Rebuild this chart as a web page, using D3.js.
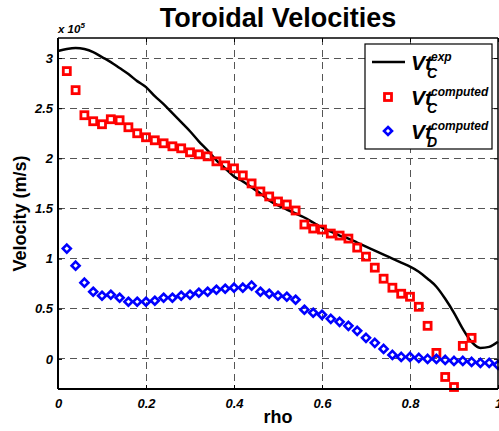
<!DOCTYPE html>
<html>
<head>
<meta charset="utf-8">
<script src="https://cdn.jsdelivr.net/npm/d3@7"></script>
<style>
	body { margin: 0; background: #ffffff; }
	svg { display: block; font-family: "Liberation Sans", Arial, sans-serif; }
</style>
</head>
<body>
<svg id="chart" width="499" height="431"></svg>
<script>
// All velocities are in units of 10^5 m/s, as written on top of the y axis.
var rho_exp = [0.00, 0.02, 0.04, 0.06, 0.08, 0.10, 0.12, 0.14, 0.16, 0.18,
	0.20, 0.22, 0.24, 0.26, 0.28, 0.30, 0.32, 0.34, 0.36, 0.38,
	0.40, 0.42, 0.44, 0.46, 0.48, 0.50, 0.52, 0.54, 0.56, 0.58,
	0.60, 0.62, 0.64, 0.66, 0.68, 0.70, 0.72, 0.74, 0.76, 0.78,
	0.80, 0.82, 0.84, 0.86, 0.88, 0.90, 0.92, 0.94, 0.96, 0.98, 1.00];
var vt_c_exp = [3.07, 3.09, 3.10, 3.09, 3.06, 3.01, 2.96, 2.90, 2.84, 2.77,
	2.71, 2.62, 2.54, 2.45, 2.36, 2.27, 2.17, 2.08, 1.98, 1.90,
	1.82, 1.77, 1.71, 1.65, 1.58, 1.53, 1.49, 1.45, 1.41, 1.36,
	1.31, 1.27, 1.23, 1.20, 1.16, 1.12, 1.08, 1.04, 1.00, 0.96,
	0.92, 0.87, 0.80, 0.72, 0.60, 0.46, 0.30, 0.17, 0.11, 0.12, 0.17];

var rho_computed = [0.02, 0.04, 0.06, 0.08, 0.10, 0.12, 0.14, 0.16, 0.18, 0.20,
	0.22, 0.24, 0.26, 0.28, 0.30, 0.32, 0.34, 0.36, 0.38, 0.40,
	0.42, 0.44, 0.46, 0.48, 0.50, 0.52, 0.54, 0.56, 0.58, 0.60,
	0.62, 0.64, 0.66, 0.68, 0.70, 0.72, 0.74, 0.76, 0.78, 0.80,
	0.82, 0.84, 0.86, 0.88, 0.90, 0.92, 0.94, 0.96, 0.98, 1.00];
// Ends at rho = 0.94.
var vt_c_computed = [2.87, 2.68, 2.43, 2.37, 2.34, 2.39, 2.38, 2.31, 2.25, 2.21,
	2.18, 2.15, 2.12, 2.10, 2.06, 2.04, 2.02, 1.97, 1.93, 1.90,
	1.83, 1.75, 1.67, 1.62, 1.57, 1.54, 1.48, 1.34, 1.30, 1.29,
	1.25, 1.23, 1.20, 1.11, 1.02, 0.91, 0.80, 0.71, 0.65, 0.62,
	0.52, 0.33, 0.06, -0.18, -0.28, 0.13, 0.21];
var vt_d_computed = [1.10, 0.93, 0.76, 0.67, 0.63, 0.64, 0.61, 0.57, 0.57, 0.57,
	0.58, 0.61, 0.61, 0.63, 0.64, 0.66, 0.67, 0.69, 0.70, 0.71,
	0.71, 0.73, 0.67, 0.65, 0.63, 0.62, 0.59, 0.49, 0.46, 0.44,
	0.40, 0.37, 0.33, 0.28, 0.21, 0.16, 0.10, 0.04, 0.02, 0.02,
	0.01, 0.00, 0.00, -0.01, -0.02, -0.02, -0.03, -0.04, -0.04, -0.06];

var x_ticks = [0, 0.2, 0.4, 0.6, 0.8, 1];
var x_tick_labels = ["0", "0.2", "0.4", "0.6", "0.8", "1"];
var y_ticks = [0, 0.5, 1, 1.5, 2, 2.5, 3];
var y_tick_labels = ["0", "0.5", "1", "1.5", "2", "2.5", "3"];

var legend_subs = ["C", "C", "D"];
var legend_sups = ["exp", "computed", "computed"];

// Plot box edges (note: "top" is taken by window.top, so prefix them).
var box_left = 58, box_right = 498, box_top = 38, box_bottom = 389;

var SQUARE_HALF = 3.5;
var DIAMOND_R = 4;

var svg = d3.select("#chart");

var x = d3.scaleLinear().domain([0, 1]).range([box_left, box_right]);
var y = d3.scaleLinear().domain([-0.3, 3.2]).range([box_bottom, box_top]);

// Dashed grid, drawn first so everything else sits over it.
var grid = svg.append("g")
	.attr("stroke", "#555555")
	.attr("stroke-width", 1)
	.attr("stroke-dasharray", "7,5")
	.attr("shape-rendering", "crispEdges");
grid.selectAll("line.gx")
	.data(x_ticks.filter(function(d) { return d > 0 && d < 1; }))
	.enter().append("line")
	.attr("class", "gx")
	.attr("x1", function(d) { return x(d); })
	.attr("x2", function(d) { return x(d); })
	.attr("y1", box_top)
	.attr("y2", box_bottom);
grid.selectAll("line.gy")
	.data(y_ticks)
	.enter().append("line")
	.attr("class", "gy")
	.attr("x1", box_left)
	.attr("x2", box_right)
	.attr("y1", function(d) { return y(d); })
	.attr("y2", function(d) { return y(d); });

// Axes with inward ticks (MATLAB style), labels in bold italic.
var x_axis = d3.axisBottom(x)
	.tickValues(x_ticks)
	.tickFormat(function(d, i) { return x_tick_labels[i]; })
	.tickSizeInner(-4)
	.tickSizeOuter(0)
	.tickPadding(10);
var y_axis = d3.axisLeft(y)
	.tickValues(y_ticks)
	.tickFormat(function(d, i) { return y_tick_labels[i]; })
	.tickSizeInner(-4)
	.tickSizeOuter(0)
	.tickPadding(5);

function style_axis(g)
{
	g.select(".domain").remove();
	g.selectAll(".tick line").attr("stroke", "#000000");
	g.selectAll(".tick text")
		.attr("fill", "#000000")
		.style("font-size", "13px")
		.style("font-weight", "bold")
		.style("font-style", "italic");
}

svg.append("g")
	.attr("transform", "translate(0," + box_bottom + ")")
	.call(x_axis)
	.call(style_axis);
svg.append("g")
	.attr("transform", "translate(" + box_left + ",0)")
	.call(y_axis)
	.call(style_axis);

// Mirror ticks on top and right.
svg.append("g")
	.attr("transform", "translate(0," + box_top + ")")
	.call(d3.axisTop(x).tickValues(x_ticks).tickFormat("").tickSizeInner(-4).tickSizeOuter(0))
	.call(style_axis);
svg.append("g")
	.attr("transform", "translate(" + box_right + ",0)")
	.call(d3.axisRight(y).tickValues(y_ticks).tickFormat("").tickSizeInner(-4).tickSizeOuter(0))
	.call(style_axis);

// Experimental profile.
var line = d3.line()
	.x(function(d, i) { return x(rho_exp[i]); })
	.y(function(d) { return y(d); })
	.curve(d3.curveMonotoneX);
svg.append("path")
	.attr("d", line(vt_c_exp))
	.attr("fill", "none")
	.attr("stroke", "#000000")
	.attr("stroke-width", 2.5);

function diamond_path(r)
{
	return "M0," + (-r) + "L" + r + ",0L0," + r + "L" + (-r) + ",0Z";
}

// Computed C: open red squares.
svg.append("g").selectAll("rect")
	.data(vt_c_computed)
	.enter().append("rect")
	.attr("x", function(d, i) { return x(rho_computed[i]) - SQUARE_HALF; })
	.attr("y", function(d) { return y(d) - SQUARE_HALF; })
	.attr("width", SQUARE_HALF * 2)
	.attr("height", SQUARE_HALF * 2)
	.attr("fill", "none")
	.attr("stroke", "#ff0000")
	.attr("stroke-width", 2.8);

// Computed D: open blue diamonds.
svg.append("g").selectAll("path")
	.data(vt_d_computed)
	.enter().append("path")
	.attr("transform", function(d, i) { return "translate(" + x(rho_computed[i]) + "," + y(d) + ")"; })
	.attr("d", diamond_path(DIAMOND_R))
	.attr("fill", "none")
	.attr("stroke", "#0000ff")
	.attr("stroke-width", 2.6);

// Box, on top of the marks like MATLAB draws it.
var frame = svg.append("g").attr("stroke", "#000000");
frame.append("line").attr("x1", box_left).attr("x2", box_right).attr("y1", box_top).attr("y2", box_top)
	.attr("stroke-width", 1.5);
frame.append("line").attr("x1", box_right).attr("x2", box_right).attr("y1", box_top).attr("y2", box_bottom)
	.attr("stroke-width", 1.5);
frame.append("line").attr("x1", box_left).attr("x2", box_right).attr("y1", box_bottom).attr("y2", box_bottom)
	.attr("stroke-width", 2);
frame.append("line").attr("x1", box_left).attr("x2", box_left).attr("y1", box_top).attr("y2", box_bottom)
	.attr("stroke-width", 2);

// Titles.
svg.append("text")
	.attr("x", (box_left + box_right) / 2)
	.attr("y", 27)
	.attr("text-anchor", "middle")
	.style("font-size", "27px")
	.style("font-weight", "bold")
	.text("Toroidal Velocities");

svg.append("text")
	.attr("x", (box_left + box_right) / 2)
	.attr("y", 423)
	.attr("text-anchor", "middle")
	.style("font-size", "18px")
	.style("font-weight", "bold")
	.text("rho");

svg.append("text")
	.attr("transform", "translate(26," + ((box_top + box_bottom) / 2) + ") rotate(-90)")
	.attr("text-anchor", "middle")
	.style("font-size", "18px")
	.style("font-weight", "bold")
	.text("Velocity (m/s)");

// The "x 10^5" multiplier above the y axis.
var mult = svg.append("text")
	.attr("x", box_left)
	.attr("y", 33)
	.style("font-size", "11.5px")
	.style("font-weight", "bold")
	.style("font-style", "italic");
mult.append("tspan").text("x 10");
mult.append("tspan").attr("dy", -5).style("font-size", "8px").text("5");

// Legend.
var legend = svg.append("g");
legend.append("rect")
	.attr("x", 365)
	.attr("y", 44)
	.attr("width", 127)
	.attr("height", 105)
	.attr("fill", "#ffffff")
	.attr("stroke", "#000000")
	.attr("stroke-width", 1.2);

var rows = [62, 97, 131];
legend.append("line")
	.attr("x1", 372).attr("x2", 405)
	.attr("y1", rows[0]).attr("y2", rows[0])
	.attr("stroke", "#000000")
	.attr("stroke-width", 2.5);
legend.append("rect")
	.attr("x", 388 - SQUARE_HALF).attr("y", rows[1] - SQUARE_HALF)
	.attr("width", SQUARE_HALF * 2).attr("height", SQUARE_HALF * 2)
	.attr("fill", "none")
	.attr("stroke", "#ff0000")
	.attr("stroke-width", 2.8);
legend.append("path")
	.attr("transform", "translate(388," + rows[2] + ")")
	.attr("d", diamond_path(DIAMOND_R))
	.attr("fill", "none")
	.attr("stroke", "#0000ff")
	.attr("stroke-width", 2.6);

rows.forEach(function(row, i)
{
	legend.append("text")
		.attr("x", 411)
		.attr("y", row + 8)
		.style("font-size", "21px")
		.style("font-weight", "bold")
		.style("font-style", "italic")
		.text("Vt");
	legend.append("text")
		.attr("x", 427)
		.attr("y", row + 16)
		.style("font-size", "14px")
		.style("font-weight", "bold")
		.style("font-style", "italic")
		.text(legend_subs[i]);
	legend.append("text")
		.attr("x", 431)
		.attr("y", row - 1)
		.style("font-size", "12px")
		.style("font-weight", "bold")
		.style("font-style", "italic")
		.text(legend_sups[i]);
});
</script>
</body>
</html>
